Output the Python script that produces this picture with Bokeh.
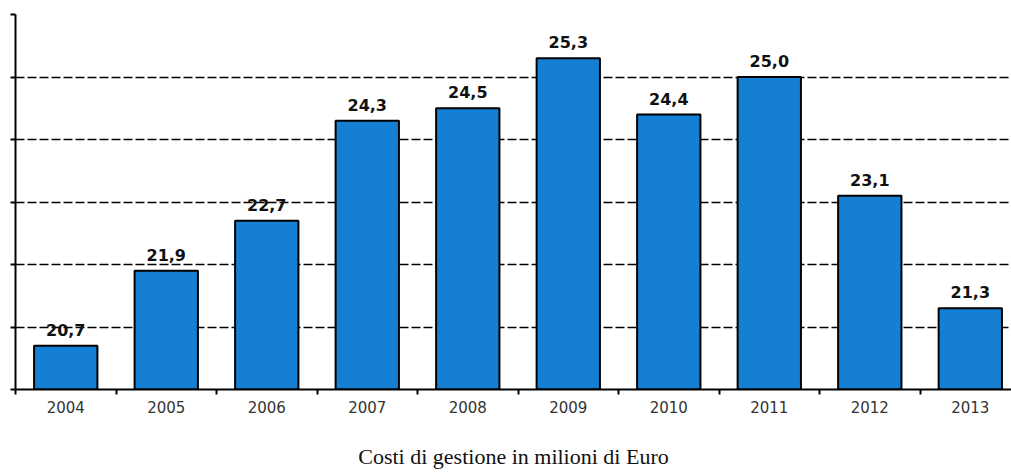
from bokeh.plotting import figure
from bokeh.models import ColumnDataSource, FixedTicker, Range1d, CustomJSTickFormatter
from bokeh.embed import file_html
from bokeh.resources import INLINE
from bokeh.core.properties import value

years = ["2004", "2005", "2006", "2007", "2008", "2009", "2010", "2011", "2012", "2013"]
costs = [20.7, 21.9, 22.7, 24.3, 24.5, 25.3, 24.4, 25.0, 23.1, 21.3]
cost_labels = ["20,7", "21,9", "22,7", "24,3", "24,5", "25,3", "24,4", "25,0", "23,1", "21,3"]
y_ticks = [20, 21, 22, 23, 24, 25, 26]
grid_ticks = [21, 22, 23, 24, 25]
title_text = "Costi di gestione in milioni di Euro"

xs = list(range(len(years)))
src = ColumnDataSource(dict(x=xs, top=costs, label=cost_labels))

p = figure(width=1011, height=472, output_backend="svg", toolbar_location=None,
           x_range=Range1d(-0.5, 9.41), y_range=Range1d(20, 26),
           min_border_left=15, min_border_right=0, min_border_top=14, min_border_bottom=83)
p.outline_line_color = None
p.background_fill_color = "white"

p.vbar(x="x", top="top", bottom=20, width=0.63, source=src,
       fill_color="#157fd3", line_color="black", line_width=2)
p.text(x="x", y="top", text="label", source=src, text_align="center",
       text_baseline="bottom", y_offset=-10, text_font=value("DejaVu Sans"),
       text_font_style="bold", text_font_size="16px", text_color="#111111")

# x axis
xa = p.xaxis[0]
xa.ticker = FixedTicker(ticks=xs, minor_ticks=[i - 0.5 for i in range(len(years) + 1)])
xa.major_label_overrides = {i: y for i, y in enumerate(years)}
xa.major_tick_out = 0
xa.major_tick_in = 0
xa.minor_tick_out = 5
xa.minor_tick_in = 0
xa.minor_tick_line_width = 2
xa.minor_tick_line_color = "black"
xa.axis_line_width = 2
xa.axis_line_color = "black"
xa.major_label_text_font = "DejaVu Sans"
xa.major_label_text_font_size = "15px"
xa.major_label_text_color = "#333333"
xa.major_label_standoff = 6
xa.axis_label = title_text
xa.axis_label_text_font = "Liberation Serif"
xa.axis_label_text_font_size = "22px"
xa.axis_label_text_font_style = "normal"
xa.axis_label_text_color = "#111111"
xa.axis_label_standoff = 28

# y axis
ya = p.yaxis[0]
ya.ticker = FixedTicker(ticks=y_ticks)
ya.formatter = CustomJSTickFormatter(code="return ''")
ya.major_label_standoff = 0
ya.major_tick_out = 5
ya.major_tick_in = 0
ya.major_tick_line_width = 2
ya.minor_tick_out = 0
ya.minor_tick_in = 0
ya.axis_line_width = 2
ya.axis_line_color = "black"

p.xgrid.visible = False
p.ygrid.ticker = FixedTicker(ticks=grid_ticks)
p.ygrid.grid_line_color = "black"
p.ygrid.grid_line_dash = "9 3"
p.ygrid.grid_line_width = 1.5

open("out.html", "w").write(file_html(p, INLINE))
